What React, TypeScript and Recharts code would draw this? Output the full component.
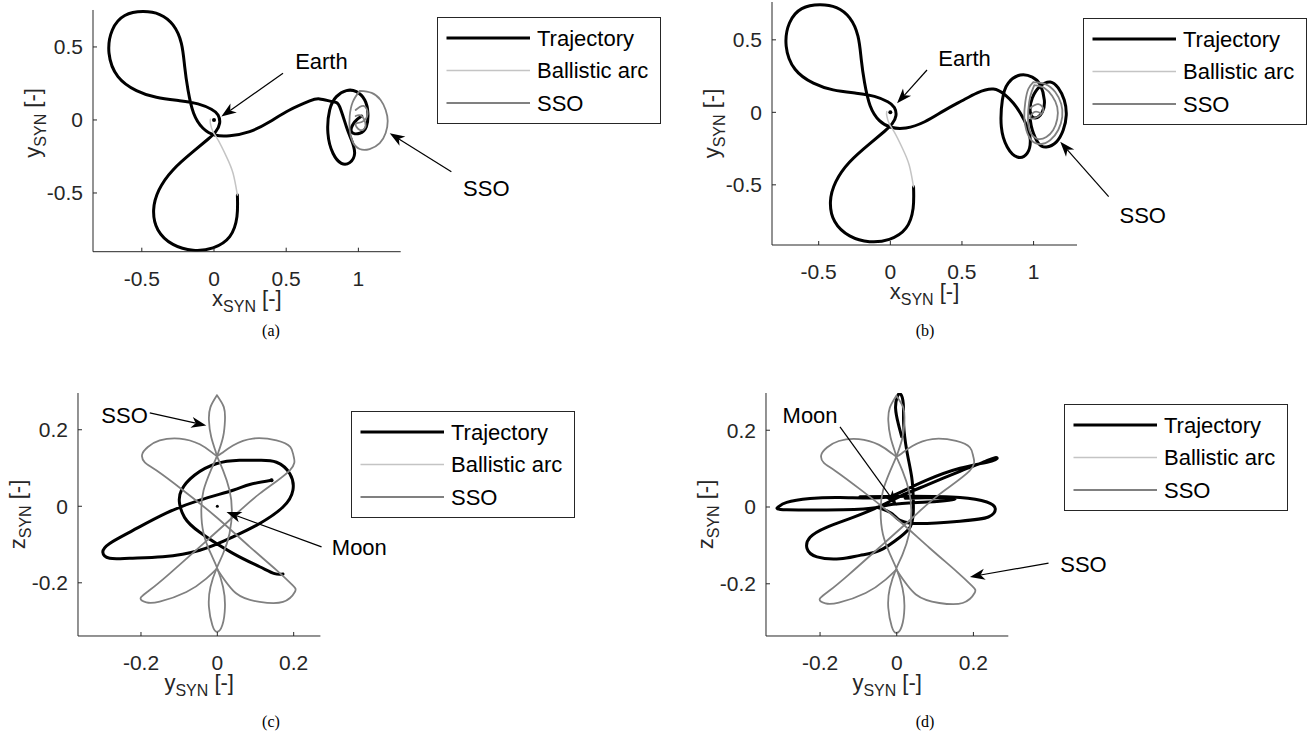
import { LineChart, Line, XAxis, YAxis, Label, ReferenceLine, ReferenceDot } from "recharts";

type Pt = [number, number];

const FONT = '"Liberation Sans", Arial, Helvetica, sans-serif';
const SERIF = '"Liberation Serif", "Times New Roman", serif';
const INK = "#262626";

const TRAJ = { color: "#000000", width: 3 };
const ARC = { color: "#c4c4c4", width: 1.5 };
const SSO = { color: "#808080", width: 1.8 };

// Earth-Moon synodic frame, x-y projection: two Earth lobes shared by (a) and (b)
const lobes: Pt[] = [
  [0.162, -0.514], [0.159, -0.662], [0.109, -0.799], [-0.007, -0.876], [-0.145, -0.892],
  [-0.284, -0.852], [-0.388, -0.753], [-0.418, -0.616], [-0.381, -0.479], [-0.284, -0.342],
  [-0.145, -0.217], [-0.042, -0.132], [0.012, -0.080], [0.039, -0.023], [0.028, 0.034],
  [-0.018, 0.073], [-0.111, 0.110], [-0.238, 0.132], [-0.399, 0.155], [-0.537, 0.201],
  [-0.665, 0.297], [-0.727, 0.457], [-0.704, 0.616], [-0.618, 0.715], [-0.492, 0.742],
  [-0.376, 0.722], [-0.284, 0.651], [-0.226, 0.525], [-0.203, 0.365], [-0.180, 0.205],
  [-0.141, 0.046], [-0.076, -0.057], [0.005, -0.103], [0.109, -0.108],
];

const tailA: Pt[] = [
  [0.247, -0.080], [0.386, -0.012], [0.524, 0.068], [0.663, 0.130], [0.732, 0.144],
  [0.824, 0.125], [0.870, 0.091], [0.917, -0.046], [0.952, -0.137], [0.974, -0.228],
  [0.940, -0.292], [0.882, -0.297], [0.824, -0.228], [0.789, -0.091], [0.801, 0.068],
  [0.848, 0.160], [0.917, 0.201], [0.986, 0.194], [1.044, 0.137], [1.066, 0.046],
  [1.055, -0.046], [1.009, -0.091], [0.952, -0.080], [0.974, -0.014], [1.023, 0.027],
];

const tailB: Pt[] = [
  [0.240, -0.065], [0.372, 0.010], [0.500, 0.080], [0.607, 0.135], [0.719, 0.161],
  [0.803, 0.119], [0.858, 0.064], [0.907, -0.005], [0.956, -0.101], [0.977, -0.191],
  [0.956, -0.281], [0.886, -0.308], [0.816, -0.239], [0.775, -0.101], [0.782, 0.085],
  [0.823, 0.202], [0.907, 0.257], [0.991, 0.243], [1.047, 0.188], [1.075, 0.085],
  [1.061, 0.002], [1.012, -0.039], [0.977, 0.002], [0.991, 0.099], [1.047, 0.181],
  [1.117, 0.209], [1.172, 0.168], [1.214, 0.085], [1.228, -0.019], [1.207, -0.122],
  [1.158, -0.205], [1.089, -0.239], [1.033, -0.212], [0.991, -0.122], [0.977, -0.053],
];

const ballisticArc: Pt[] = [
  [0.162, -0.514], [0.132, -0.365], [0.086, -0.251], [0.028, -0.137],
  [-0.007, -0.080], [-0.025, -0.023], [-0.025, 0.005],
];

const ssoLoopA: Pt[] = [
  [1.009, 0.199], [1.092, 0.185], [1.154, 0.137], [1.189, 0.068], [1.203, -0.007],
  [1.189, -0.089], [1.148, -0.158], [1.078, -0.199], [1.009, -0.199], [0.961, -0.151],
  [0.940, -0.068], [0.940, 0.027], [0.961, 0.123], [1.009, 0.199],
];
const ssoKnotA: Pt[] = [
  [0.981, 0.068], [1.036, 0.096], [1.064, 0.041], [1.023, -0.014], [0.981, -0.027],
  [1.009, -0.068], [1.050, -0.041], [1.023, 0.027], [0.981, 0.027],
];

const ssoLoopB: Pt[] = [
  [0.998, 0.209], [1.082, 0.195], [1.151, 0.140], [1.193, 0.057], [1.200, -0.032],
  [1.172, -0.122], [1.117, -0.191], [1.047, -0.219], [0.984, -0.191], [0.949, -0.122],
  [0.935, -0.032], [0.942, 0.071], [0.963, 0.161], [0.998, 0.209],
];
const ssoInnerB: Pt[] = [
  [1.005, 0.188], [1.075, 0.168], [1.130, 0.112], [1.165, 0.037], [1.165, -0.046],
  [1.137, -0.122], [1.089, -0.170], [1.033, -0.184], [0.984, -0.150], [0.963, -0.081],
  [0.963, 0.016], [0.977, 0.112], [1.005, 0.188],
];
const ssoKnotB: Pt[] = [
  [0.977, 0.030], [1.033, 0.057], [1.068, 0.016], [1.026, -0.032], [0.977, -0.039],
  [1.005, 0.002], [1.047, -0.005],
];

// y-z projection: the SSO rosette, shared by (c) and (d)
const ssoChain: Pt[] = [
  [-0.001, 0.290], [-0.018, 0.259], [-0.022, 0.225], [-0.016, 0.181], [-0.004, 0.142],
  [-0.001, 0.131], [0.015, 0.094], [0.032, 0.042], [0.038, -0.010], [0.032, -0.071],
  [0.015, -0.124], [-0.001, -0.160], [-0.018, -0.211], [-0.022, -0.263], [-0.013, -0.311],
  [-0.001, -0.328], [0.013, -0.311], [0.020, -0.263], [0.015, -0.211], [-0.001, -0.160],
  [-0.017, -0.124], [-0.036, -0.071], [-0.042, -0.010], [-0.036, 0.042], [-0.017, 0.094],
  [-0.001, 0.131], [0.003, 0.142], [0.015, 0.181], [0.020, 0.225], [0.017, 0.259],
  [-0.001, 0.290],
];
const ssoPetalsUL: Pt[] = [
  [-0.001, 0.131], [-0.012, 0.139], [-0.046, 0.162], [-0.099, 0.177], [-0.151, 0.172],
  [-0.182, 0.155], [-0.197, 0.135], [-0.190, 0.115], [-0.160, 0.094], [-0.090, 0.042],
  [-0.003, -0.028], [0.085, -0.106], [0.155, -0.167], [0.197, -0.206], [0.203, -0.224],
  [0.172, -0.250], [0.111, -0.250], [0.050, -0.228], [-0.001, -0.163],
];
const ssoPetalsUR: Pt[] = [
  [-0.001, 0.131], [0.012, 0.139], [0.041, 0.159], [0.093, 0.177], [0.155, 0.172],
  [0.191, 0.155], [0.200, 0.130], [0.190, 0.094], [0.111, 0.033], [0.041, -0.028],
  [-0.046, -0.106], [-0.125, -0.176], [-0.177, -0.219], [-0.201, -0.240], [-0.186, -0.251],
  [-0.151, -0.249], [-0.081, -0.224], [-0.029, -0.189], [-0.001, -0.163],
];

const trajC: Pt[] = [
  [0.142, 0.068], [0.085, 0.057], [0.041, 0.042], [-0.046, 0.016], [-0.134, -0.018],
  [-0.221, -0.063], [-0.282, -0.097], [-0.300, -0.120], [-0.282, -0.136], [-0.230, -0.136],
  [-0.143, -0.132], [-0.046, -0.115], [0.041, -0.080], [0.111, -0.045], [0.172, -0.002],
  [0.198, 0.042], [0.190, 0.085], [0.155, 0.115], [0.111, 0.120], [0.058, 0.120],
  [-0.003, 0.111], [-0.060, 0.081], [-0.094, 0.042], [-0.099, 0.008], [-0.086, -0.029],
  [-0.046, -0.068], [0.041, -0.123], [0.111, -0.158], [0.150, -0.176], [0.172, -0.177],
];

const trajD: Pt[] = [
  [0.013, 0.183], [0.004, 0.217], [-0.003, 0.257], [0.001, 0.286], [0.009, 0.295],
  [0.017, 0.270], [0.018, 0.217], [0.026, 0.148], [0.039, 0.078], [0.043, 0.026],
  [0.043, -0.017], [0.035, -0.052], [0.009, -0.078], [-0.044, -0.113], [-0.096, -0.126],
  [-0.148, -0.135], [-0.208, -0.130], [-0.234, -0.108], [-0.226, -0.079], [-0.183, -0.053],
  [-0.114, -0.027], [-0.044, 0.002], [0.009, 0.028], [0.078, 0.057], [0.165, 0.093],
  [0.231, 0.119], [0.259, 0.129], [0.248, 0.120], [0.165, 0.101], [0.078, 0.070],
  [0.009, 0.038], [-0.044, 0.024], [-0.148, 0.025], [-0.226, 0.022], [-0.287, 0.012],
  [-0.309, 0.000], [-0.287, -0.007], [-0.140, -0.007], [-0.051, -0.001], [-0.010, 0.007],
  [0.079, 0.013], [0.152, 0.020], [0.087, 0.024], [0.022, 0.023],
];
const trajDLobe: Pt[] = [
  [-0.051, -0.001], [-0.010, -0.019], [0.035, -0.042], [0.165, -0.037], [0.239, -0.026],
  [0.257, -0.004], [0.235, 0.013], [0.165, 0.025], [0.035, 0.028], [-0.096, 0.027],
];

const ticksXY = [-0.5, 0, 0.5, 1];
const ticksY = [-0.5, 0, 0.5];
const ticksYZ = [-0.2, 0, 0.2];

const PAD_L = 90;
const PAD_T = 14;
const PAD_B = 80;
const PAD_R = 140;

const toRows = (pts: Pt[]) => pts.map(([x, y]) => ({ x, y }));

interface Note { text: string; at: Pt }
interface Arrow { from: Pt; to: Pt }
interface Dot { at: Pt; r: number }

interface PanelProps {
  box: { left: number; top: number; right: number; bottom: number };
  xDomain: [number, number];
  yDomain: [number, number];
  xTicks: number[];
  yTicks: number[];
  xName: string;
  yName: string;
  yTitleShift?: number;
  traj: Pt[][];
  arc: Pt[][];
  sso: Pt[][];
  notes: Note[];
  arrows: Arrow[];
  dots: Dot[];
}

function AxisTitle({ x, y, main, rotate }: { x: number; y: number; main: string; rotate?: boolean }) {
  return (
    <text
      x={x}
      y={y}
      textAnchor="middle"
      fontFamily={FONT}
      fontSize={22}
      fill={INK}
      transform={rotate ? `rotate(-90 ${x} ${y})` : undefined}
    >
      {main}
      <tspan fontSize={16} dy={6}>SYN</tspan>
      <tspan dy={-6}>{"\u00a0[-]"}</tspan>
    </text>
  );
}

function ArrowShape(props: any) {
  const { x1, y1, x2, y2 } = props;
  const dx = x2 - x1;
  const dy = y2 - y1;
  const len = Math.hypot(dx, dy) || 1;
  const ux = dx / len;
  const uy = dy / len;
  const head = 15;
  const half = 5.5;
  const bx = x2 - ux * head;
  const by = y2 - uy * head;
  const nx = x2 - ux * head * 0.72;
  const ny = y2 - uy * head * 0.72;
  const pts = `${x2},${y2} ${bx - uy * half},${by + ux * half} ${nx},${ny} ${bx + uy * half},${by - ux * half}`;
  return (
    <g>
      <line x1={x1} y1={y1} x2={nx} y2={ny} stroke="#000" strokeWidth={1.2} />
      <polygon points={pts} fill="#000" />
    </g>
  );
}

function Panel(p: PanelProps) {
  const plotW = p.box.right - p.box.left;
  const plotH = p.box.bottom - p.box.top;
  const width = plotW + PAD_L + PAD_R;
  const height = plotH + PAD_T + PAD_B;
  const series = (list: Pt[][], style: { color: string; width: number }, tag: string) =>
    list.map((pts, i) => (
      <Line
        key={`${tag}-${i}`}
        data={toRows(pts)}
        dataKey="y"
        type="natural"
        stroke={style.color}
        strokeWidth={style.width}
        strokeLinejoin="round"
        strokeLinecap="round"
        dot={false}
        activeDot={false}
        isAnimationActive={false}
      />
    ));

  return (
    <div style={{ position: "absolute", left: p.box.left - PAD_L, top: p.box.top - PAD_T }}>
      <LineChart width={width} height={height} margin={{ top: PAD_T, right: PAD_R, bottom: 0, left: 0 }}>
        <XAxis
          type="number"
          dataKey="x"
          domain={p.xDomain}
          ticks={p.xTicks}
          interval={0}
          allowDataOverflow
          height={PAD_B}
          tickSize={-4}
          tickMargin={23.5}
          tick={{ fill: INK, fontSize: 21, fontFamily: FONT }}
          axisLine={{ stroke: INK }}
          tickLine={{ stroke: INK }}
        >
          <Label content={() => <AxisTitle x={PAD_L + plotW / 2} y={PAD_T + plotH + 54} main={p.xName} />} />
        </XAxis>
        <YAxis
          type="number"
          dataKey="y"
          domain={p.yDomain}
          ticks={p.yTicks}
          interval={0}
          allowDataOverflow
          width={PAD_L}
          tickSize={-4}
          tickMargin={14}
          tick={{ fill: INK, fontSize: 21, fontFamily: FONT }}
          axisLine={{ stroke: INK }}
          tickLine={{ stroke: INK }}
        >
          <Label
            content={() => (
              <AxisTitle x={PAD_L - 53} y={PAD_T + plotH / 2 + (p.yTitleShift ?? 0)} main={p.yName} rotate />
            )}
          />
        </YAxis>
        {series(p.traj, TRAJ, "traj")}
        {series(p.arc, ARC, "arc")}
        {series(p.sso, SSO, "sso")}
        {p.dots.map((d, i) => (
          <ReferenceDot key={`dot-${i}`} x={d.at[0]} y={d.at[1]} r={d.r} fill="#000" stroke="none" ifOverflow="visible" />
        ))}
        {p.arrows.map((a, i) => (
          <ReferenceLine
            key={`arrow-${i}`}
            segment={[{ x: a.from[0], y: a.from[1] }, { x: a.to[0], y: a.to[1] }]}
            ifOverflow="visible"
            shape={(sp: any) => <ArrowShape {...sp} />}
          />
        ))}
        {p.notes.map((n, i) => (
          <ReferenceDot
            key={`note-${i}`}
            x={n.at[0]}
            y={n.at[1]}
            r={0}
            ifOverflow="visible"
            shape={(sp: any) => (
              <text x={sp.cx} y={sp.cy} dy="0.35em" textAnchor="middle" fontFamily={FONT} fontSize={22} fill="#000">
                {n.text}
              </text>
            )}
          />
        ))}
      </LineChart>
    </div>
  );
}

function LegendBox({ left, top }: { left: number; top: number }) {
  const rows = [
    { label: "Trajectory", ...TRAJ },
    { label: "Ballistic arc", ...ARC },
    { label: "SSO", ...SSO },
  ];
  return (
    <svg style={{ position: "absolute", left, top }} width={225} height={108}>
      <rect x={0.5} y={0.5} width={223} height={106} fill="#fff" stroke={INK} />
      {rows.map((r, i) => (
        <g key={r.label}>
          <line x1={9.5} x2={93} y1={21 + i * 32.5} y2={21 + i * 32.5} stroke={r.color} strokeWidth={r.width} />
          <text x={100} y={21 + i * 32.5} dy="0.35em" fontFamily={FONT} fontSize={22} fill="#000">
            {r.label}
          </text>
        </g>
      ))}
    </svg>
  );
}

function Caption({ x, y, text }: { x: number; y: number; text: string }) {
  return (
    <div
      style={{
        position: "absolute",
        left: x - 30,
        top: y - 10,
        width: 60,
        lineHeight: "20px",
        textAlign: "center",
        fontFamily: SERIF,
        fontSize: 16,
        color: "#000",
      }}
    >
      {text}
    </div>
  );
}

export default function App() {
  return (
    <div style={{ position: "absolute", left: 0, top: 0, width: 1311, height: 746, background: "#fff", overflow: "hidden" }}>
      <Panel
        box={{ left: 93.3, top: 10, right: 401, bottom: 251.7 }}
        xDomain={[-0.838, 1.293]}
        yDomain={[-0.902, 0.753]}
        xTicks={ticksXY}
        yTicks={ticksY}
        xName="x"
        yName="y"
        yTitleShift={-8}
        traj={[[...lobes, ...tailA]]}
        arc={[ballisticArc]}
        sso={[ssoLoopA, ssoKnotA]}
        notes={[{ text: "Earth", at: [0.744, 0.399] }, { text: "SSO", at: [1.886, -0.468] }]}
        arrows={[{ from: [0.478, 0.32], to: [0.051, 0.023] }, { from: [1.644, -0.354], to: [1.217, -0.091] }]}
        dots={[{ at: [0, 0], r: 2 }]}
      />
      <Panel
        box={{ left: 771.7, top: 2, right: 1076.7, bottom: 245 }}
        xDomain={[-0.826, 1.303]}
        yDomain={[-0.915, 0.761]}
        xTicks={ticksXY}
        yTicks={ticksY}
        xName="x"
        yName="y"
        traj={[[...lobes, ...tailB]]}
        arc={[ballisticArc]}
        sso={[ssoLoopB, ssoInnerB, ssoKnotB]}
        notes={[{ text: "Earth", at: [0.518, 0.372] }, { text: "SSO", at: [1.762, -0.708] }]}
        arrows={[{ from: [0.256, 0.292], to: [0.047, 0.062] }, { from: [1.524, -0.582], to: [1.186, -0.203] }]}
        dots={[{ at: [0, 0], r: 2 }]}
      />
      <Panel
        box={{ left: 78.3, top: 392.7, right: 320.7, bottom: 635.7 }}
        xDomain={[-0.365, 0.27]}
        yDomain={[-0.339, 0.296]}
        xTicks={ticksYZ}
        yTicks={ticksYZ}
        xName="y"
        yName="z"
        traj={[trajC]}
        arc={[]}
        sso={[ssoChain, ssoPetalsUL, ssoPetalsUR]}
        notes={[{ text: "SSO", at: [-0.243, 0.238] }, { text: "Moon", at: [0.372, -0.108] }]}
        arrows={[{ from: [-0.177, 0.244], to: [-0.029, 0.211] }, { from: [0.273, -0.106], to: [0.024, -0.015] }]}
        dots={[{ at: [0, 0], r: 1.5 }, { at: [0.142, 0.068], r: 2 }]}
      />
      <Panel
        box={{ left: 766, top: 392.7, right: 1008.3, bottom: 635.7 }}
        xDomain={[-0.341, 0.291]}
        yDomain={[-0.336, 0.297]}
        xTicks={ticksYZ}
        yTicks={ticksYZ}
        xName="y"
        yName="z"
        traj={[trajD, trajDLobe]}
        arc={[]}
        sso={[ssoChain, ssoPetalsUL, ssoPetalsUR]}
        notes={[{ text: "Moon", at: [-0.226, 0.239] }, { text: "SSO", at: [0.487, -0.149] }]}
        arrows={[{ from: [-0.148, 0.209], to: [0.0, 0.004] }, { from: [0.396, -0.146], to: [0.191, -0.182] }]}
        dots={[]}
      />
      <LegendBox left={436.7} top={16.7} />
      <LegendBox left={1082.7} top={18.3} />
      <LegendBox left={351} top={410.7} />
      <LegendBox left={1064} top={404.3} />
      <Caption x={271} y={331} text="(a)" />
      <Caption x={925} y={331} text="(b)" />
      <Caption x={271} y={722} text="(c)" />
      <Caption x={925} y={722} text="(d)" />
    </div>
  );
}
